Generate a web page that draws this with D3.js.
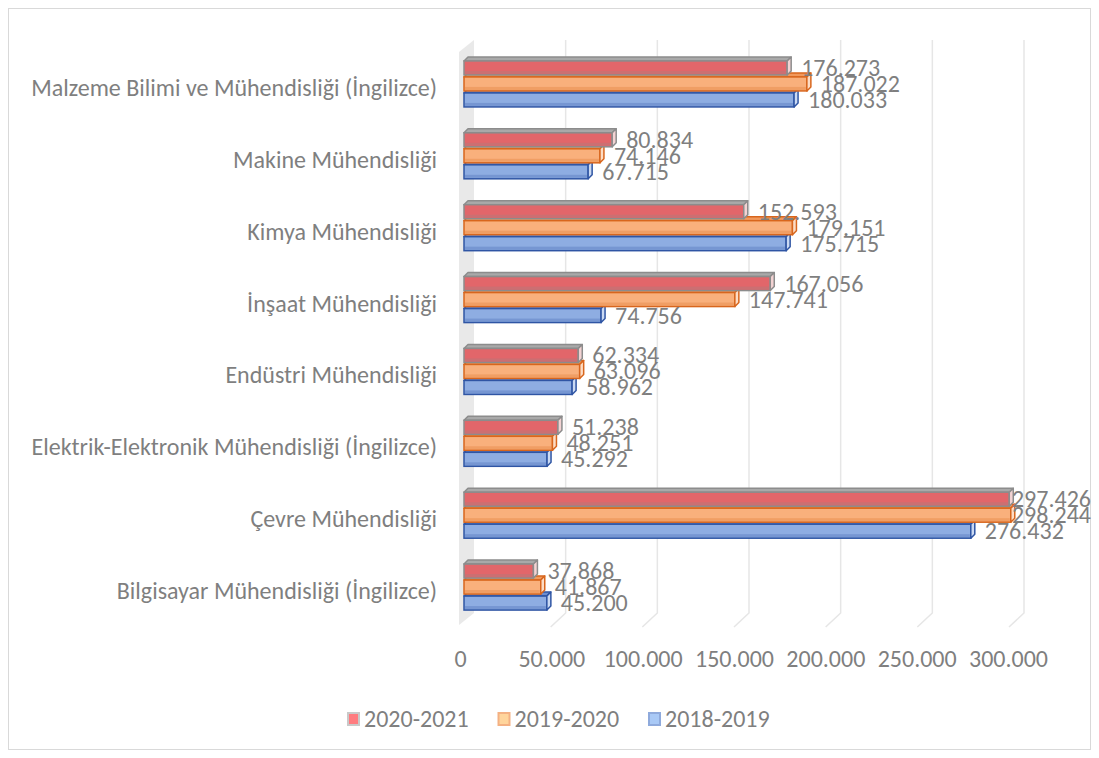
<!DOCTYPE html>
<html>
<head>
<meta charset="utf-8">
<script src="https://cdn.jsdelivr.net/npm/d3@7"></script>
<style>
  body { margin: 0; background: #fff; }
  text { font-family: Carlito, Calibri, Lato, "Open Sans", sans-serif; }
</style>
</head>
<body>
<svg id="chart" width="1099" height="758"></svg>
<script>
// categories, top to bottom as shown
var categories = [
  "Malzeme Bilimi ve Mühendisliği (İngilizce)",
  "Makine Mühendisliği",
  "Kimya Mühendisliği",
  "İnşaat Mühendisliği",
  "Endüstri Mühendisliği",
  "Elektrik-Elektronik Mühendisliği (İngilizce)",
  "Çevre Mühendisliği",
  "Bilgisayar Mühendisliği (İngilizce)"
];
var seriesNames = ["2020-2021", "2019-2020", "2018-2019"];
var values2020 = [176273, 80834, 152593, 167056, 62334, 51238, 297426, 37868];
var values2019 = [187022, 74146, 179151, 147741, 63096, 48251, 298244, 41867];
var values2018 = [180033, 67715, 175715, 74756, 58962, 45292, 276432, 45200];
var tickValues = [0, 50000, 100000, 150000, 200000, 250000, 300000];

var series = [
  { name: seriesNames[0], values: values2020, front: "#e2666a", stroke: "#8c8c8c", top: "#a9a9a9", side: "#f3d3d3", key: "#ff7c80", keyStroke: "#c9c9c9" },
  { name: seriesNames[1], values: values2019, front: "#f9b07c", stroke: "#d8661d", top: "#f1995c", side: "#fddcc4", key: "#ffd59c", keyStroke: "#f4b183" },
  { name: seriesNames[2], values: values2018, front: "#8eade2", stroke: "#2f55a4", top: "#6c8ed0", side: "#cbdaf3", key: "#a9c9f6", keyStroke: "#8faadc" }
];

var trFormat = d3.formatLocale({ decimal: ",", thousands: ".", grouping: [3], currency: ["", "₺"] }).format(",d");

var svg = d3.select("#chart");
var gray = "#7f7f7f";
var fontSize = 24;

// outer frame
svg.append("rect")
  .attr("x", 8.5).attr("y", 8.5)
  .attr("width", 1082).attr("height", 741)
  .attr("fill", "#fff").attr("stroke", "#d9d9d9");

var depth = 4;
var xBack = d3.scaleLinear().domain([0, 300000]).range([474, 1024]);
var xFloor = d3.scaleLinear().domain([0, 300000]).range([459, 1009]);
var xBar = d3.scaleLinear().domain([0, 300000]).range([464, 1014]);
var xLabel = d3.scaleLinear().domain([0, 300000]).range([460, 1008]);

var wallTop = 40, wallBottom = 613, floorFront = 627;

var y = d3.scaleBand().domain(categories).range([48, 623]);
var yInner = d3.scaleBand().domain(seriesNames).range([-24, 24]);

// left wall
svg.append("polygon")
  .attr("points", [[xFloor(0), wallTop + 12], [xBack(0), wallTop], [xBack(0), wallBottom], [xFloor(0), floorFront - 2]].join(" "))
  .attr("fill", "#e9e9e9");

// gridlines on back wall and floor
svg.append("g").selectAll("path")
  .data(tickValues.slice(1))
  .join("path")
  .attr("d", function(d) {
    return "M" + xBack(d) + "," + wallTop + "V" + wallBottom + "L" + xFloor(d) + "," + floorFront;
  })
  .attr("fill", "none")
  .attr("stroke", "#e6e6e6")
  .attr("stroke-width", 1.5);

// bars, drawn bottom series first so upper bars cover the top faces below
var barH = 14;
var barG = svg.append("g");
series.slice().reverse().forEach(function(s) {
  var g = barG.append("g");
  var items = categories.map(function(c, i) { return { cat: c, v: s.values[i] }; });
  var bar = g.selectAll("g").data(items).join("g");

  function yTop(d) { return y(d.cat) + y.bandwidth() / 2 + yInner(s.name) + (yInner.bandwidth() - barH) / 2; }

  bar.append("polygon")
    .attr("points", function(d) {
      var x0 = xBar(0), x1 = xBar(d.v), yt = yTop(d);
      return [[x0, yt], [x0 + depth, yt - depth], [x1 + depth, yt - depth], [x1, yt]].join(" ");
    })
    .attr("fill", s.top).attr("stroke", s.stroke).attr("stroke-width", 1.5).attr("stroke-linejoin", "round");

  bar.append("rect")
    .attr("x", xBar(0))
    .attr("y", yTop)
    .attr("width", function(d) { return xBar(d.v) - xBar(0); })
    .attr("height", barH)
    .attr("fill", s.front).attr("stroke", s.stroke).attr("stroke-width", 1.5);

  // darker band along the bottom of the front face
  bar.append("rect")
    .attr("x", xBar(0) + 1)
    .attr("y", function(d) { return yTop(d) + barH - 4; })
    .attr("width", function(d) { return Math.max(0, xBar(d.v) - xBar(0) - 2); })
    .attr("height", 3)
    .attr("fill", s.stroke).attr("opacity", 0.25);

  bar.append("polygon")
    .attr("points", function(d) {
      var x1 = xBar(d.v), yt = yTop(d);
      return [[x1, yt], [x1 + depth, yt - depth], [x1 + depth, yt + barH - depth], [x1, yt + barH]].join(" ");
    })
    .attr("fill", s.side).attr("stroke", s.stroke).attr("stroke-width", 1.5).attr("stroke-linejoin", "round");

  s.yTop = yTop;
});

// value labels (kept inside the chart frame, like Excel does)
series.forEach(function(s) {
  svg.append("g").selectAll("text")
    .data(categories.map(function(c, i) { return { cat: c, v: s.values[i] }; }))
    .join("text")
    .attr("y", function(d) { return s.yTop(d) + barH / 2 + 8; })
    .attr("fill", gray)
    .attr("font-size", fontSize)
    .text(function(d) { return trFormat(d.v); })
    .attr("x", function(d) {
      var w = this.getComputedTextLength();
      return Math.min(xBar(d.v) + 14, 1091 - w);
    });
});

// category labels
svg.append("g").selectAll("text")
  .data(categories)
  .join("text")
  .attr("x", 437)
  .attr("y", function(d) { return y(d) + y.bandwidth() / 2 + 12; })
  .attr("text-anchor", "end")
  .attr("fill", gray)
  .attr("font-size", fontSize)
  .text(function(d) { return d; });

// value axis labels
var axis = svg.append("g")
  .attr("transform", "translate(0,647)")
  .call(d3.axisBottom(xLabel).tickValues(tickValues).tickSize(0).tickFormat(trFormat));
axis.select(".domain").remove();
axis.selectAll("text")
  .attr("fill", gray)
  .attr("font-size", fontSize)
  .style("font-family", "Carlito, Calibri, Lato, 'Open Sans', sans-serif");

// legend
var legendX = d3.scalePoint().domain(seriesNames).range([347, 648]);
var leg = svg.append("g").selectAll("g")
  .data(series)
  .join("g")
  .attr("transform", function(d) { return "translate(" + legendX(d.name) + ",712)"; });
leg.append("rect")
  .attr("x", 1).attr("y", 1)
  .attr("width", 11).attr("height", 12)
  .attr("fill", function(d) { return d.key; })
  .attr("stroke", function(d) { return d.keyStroke; })
  .attr("stroke-width", 2);
leg.append("text")
  .attr("x", 17).attr("y", 15)
  .attr("fill", gray)
  .attr("font-size", fontSize)
  .text(function(d) { return d.name; });
</script>
</body>
</html>
